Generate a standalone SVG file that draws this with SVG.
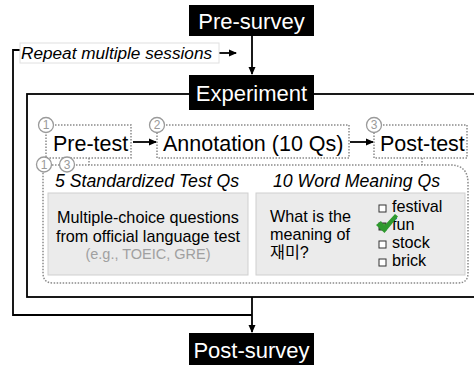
<svg xmlns="http://www.w3.org/2000/svg" width="474" height="365" viewBox="0 0 474 365">
<defs>
<marker id="ah" markerWidth="8" markerHeight="8" refX="7" refY="4" orient="auto" markerUnits="userSpaceOnUse">
<path d="M0,0.5 L8,4 L0,7.5 Z" fill="#000"/>
</marker>
<style>
text{font-family:"Liberation Sans",Arial,"Noto Sans CJK KR",sans-serif;}
.blk{fill:#000;}
.wt{fill:#fff;font-size:22px;}
.big{font-size:21.5px;fill:#000;}
.dot{fill:none;stroke:#8a8a8a;stroke-width:1.5;stroke-dasharray:1.5 1.5;}
.circ{fill:#fff;stroke:#9a9a9a;stroke-width:1.3;}
.num{font-size:12px;fill:#9a9a9a;text-anchor:middle;}
.ln{fill:none;stroke:#000;stroke-width:1.8;}
.gbox{fill:#ebebeb;stroke:#cfcfcf;stroke-width:1;}
.it{font-style:italic;font-size:17.7px;fill:#000;}
.sm{font-size:16.2px;fill:#000;}
.cb{fill:#fff;stroke:#333;stroke-width:1;}
</style>
</defs>

<g id="connectors">
<rect x="27" y="94" width="460" height="203" class="ln" stroke-width="2"/>
<path class="ln" d="M252,36 V74" marker-end="url(#ah)"/>
<path class="ln" d="M20,50 H13 V315 H252"/>
<path class="ln" d="M252,297 V332" marker-end="url(#ah)"/>
<path class="ln" d="M219,53 H236" marker-end="url(#ah)"/>
<path class="ln" d="M133,142 H156" marker-end="url(#ah)"/>
<path class="ln" d="M350,142 H373" marker-end="url(#ah)"/>
<path class="dot" d="M89,158 V165"/>
<path class="dot" d="M422,158 V165"/>
</g>

<g id="repeat-label">
<rect x="20" y="43" width="199" height="20" fill="#fff" stroke="#e0e0e0" stroke-width="1"/>
<text x="21" y="59" class="it" style="font-size:17.2px">Repeat multiple sessions</text>
</g>

<g id="pre-survey">
<rect x="189" y="5" width="125" height="31" class="blk"/>
<text x="251.5" y="29" class="wt" text-anchor="middle">Pre-survey</text>
</g>

<g id="experiment">
<rect x="189" y="75" width="125" height="35" class="blk"/>
<text x="251.5" y="101" class="wt" text-anchor="middle">Experiment</text>
</g>

<g id="post-survey">
<rect x="189" y="333" width="125" height="35" class="blk"/>
<text x="251.5" y="358" class="wt" text-anchor="middle">Post-survey</text>
</g>

<g id="pre-test">
<rect x="46" y="125" width="85" height="33" class="dot"/>
<circle cx="46" cy="125" r="7.5" class="circ"/>
<text x="46" y="129.2" class="num">1</text>
<text x="53" y="151" class="big">Pre-test</text>
</g>

<g id="annotation">
<rect x="157" y="125" width="192" height="33" class="dot"/>
<circle cx="157" cy="125" r="7.5" class="circ"/>
<text x="157" y="129.2" class="num">2</text>
<text x="163" y="151" class="big">Annotation (10 Qs)</text>
</g>

<g id="post-test">
<rect x="374" y="125" width="93" height="33" class="dot"/>
<circle cx="374" cy="125" r="7.5" class="circ"/>
<text x="374" y="129.2" class="num">3</text>
<text x="380" y="151" class="big">Post-test</text>
</g>

<g id="questions">
<path class="dot" d="M43,165 H450 Q468,165 468,183 V273 Q468,283 458,283 H53 Q43,283 43,273 Z"/>
<circle cx="44" cy="164.5" r="7.5" class="circ"/>
<text x="44" y="168.7" class="num">1</text>
<circle cx="67" cy="164.5" r="7.5" class="circ"/>
<text x="67" y="168.7" class="num">3</text>

<text x="55" y="187" class="it">5 Standardized Test Qs</text>
<text x="273" y="187" class="it">10 Word Meaning Qs</text>

<rect x="48" y="193" width="200" height="82" class="gbox"/>
<text x="148" y="223" class="sm" text-anchor="middle">Multiple-choice questions</text>
<text x="148" y="242" class="sm" text-anchor="middle">from official language test</text>
<text x="148" y="259" class="sm" text-anchor="middle" style="fill:#a0a0a0;font-size:14.5px">(e.g., TOEIC, GRE)</text>

<rect x="256" y="193" width="209" height="82" class="gbox"/>
<text x="270" y="222" class="sm">What is the</text>
<text x="270" y="240" class="sm">meaning of</text>
<text x="270" y="258" class="sm">재미?</text>

<rect x="379" y="205" width="7" height="7" class="cb"/>
<text x="392" y="212" class="sm">festival</text>
<rect x="379" y="223" width="7" height="7" class="cb" style="fill:#4a9a3a"/>
<text x="392" y="230" class="sm">fun</text>
<rect x="379" y="241" width="7" height="7" class="cb"/>
<text x="392" y="248" class="sm">stock</text>
<rect x="379" y="259" width="7" height="7" class="cb"/>
<text x="392" y="266" class="sm">brick</text>
<path d="M376,225 L381,221 L384,226 L395,214 L398,216.5 L384.5,233 Z" fill="#2e9a2e"/>
</g>
</svg>
